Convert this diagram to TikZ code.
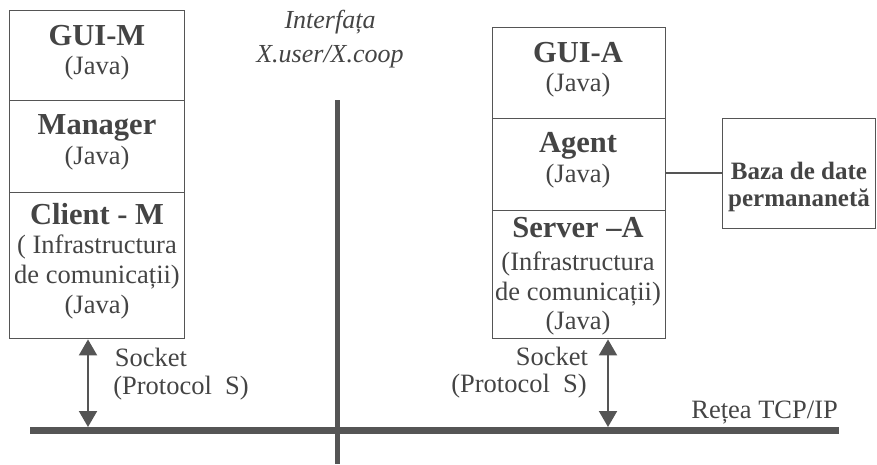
\documentclass[tikz,border=0pt]{standalone}
\usepackage{fontspec}
\setmainfont{Liberation Serif}
\usetikzlibrary{arrows.meta}
\definecolor{ink}{HTML}{444444}
\definecolor{inkline}{HTML}{555555}
\begin{document}
\begin{tikzpicture}[x=1pt,y=-1pt,
  layerbox/.style={draw=inkline,line width=1.4pt,inner sep=0pt,anchor=north west},
  title/.style={text=ink,font=\fontsize{30.5}{32}\selectfont\bfseries,inner sep=0pt},
  sub/.style={text=ink,font=\fontsize{26.5}{29}\selectfont,inner sep=0pt},
  dbtext/.style={text=ink,font=\fontsize{25}{29}\selectfont\bfseries,inner sep=0pt},
  ital/.style={text=ink,font=\fontsize{26}{29}\selectfont\itshape,inner sep=0pt},
  socketarrow/.style={draw=inkline,line width=2pt,{Triangle[length=16pt,width=18pt]}-{Triangle[length=16pt,width=18pt]}},
  busline/.style={draw=inkline,line width=7pt},
  splitline/.style={draw=inkline,line width=5pt},
  link/.style={draw=inkline,line width=1.4pt}]
\useasboundingbox (0,0) rectangle (877,464);

% manager side stack
\node[layerbox,minimum width=175pt,minimum height=90pt] (guim) at (9,10) {};
\node[layerbox,minimum width=175pt,minimum height=92pt] (mgr) at (9,100) {};
\node[layerbox,minimum width=175pt,minimum height=146pt] (clim) at (9,192) {};
\node[title] (tguim) at (97,36) {GUI-M};
\node[sub] (jguim) at (97,68) {(Java)};
\node[title] (tmgr) at (97,128) {Manager};
\node[sub] (jmgr) at (97,158) {(Java)};
\node[title] (tclim) at (97,214) {Client - M};
\node[sub] (iclim) at (97,247) {( Infrastructura};
\node[sub] (cclim) at (97,277) {de comunicații)};
\node[sub] (jclim) at (97,307) {(Java)};

% agent side stack
\node[layerbox,minimum width=173pt,minimum height=91pt] (guia) at (492,27) {};
\node[layerbox,minimum width=173pt,minimum height=92pt] (agent) at (492,118) {};
\node[layerbox,minimum width=173pt,minimum height=128pt] (srva) at (492,210) {};
\node[title] (tguia) at (578,53) {GUI-A};
\node[sub] (jguia) at (578,85) {(Java)};
\node[title] (tagent) at (578,146) {Agent};
\node[sub] (jagent) at (578,176) {(Java)};
\node[title] (tsrva) at (578,228) {Server –A};
\node[sub] (isrva) at (578,264) {(Infrastructura};
\node[sub] (csrva) at (578,294) {de comunicații)};
\node[sub] (jsrva) at (578,323) {(Java)};

% persistent database
\node[layerbox,minimum width=153pt,minimum height=110pt] (db) at (722,118) {};
\node[dbtext] (tdb1) at (799,171) {Baza de date};
\node[dbtext] (tdb2) at (799,200) {permananetă};
\draw[link] (agent.east |- 0,173) -- (db.west |- 0,173);

% interface divider
\node[ital] (ifa) at (330,22) {Interfața};
\node[ital] (ifb) at (330,57) {X.user/X.coop};
\coordinate (splittop) at (337,100);
\coordinate (splitbot) at (337,464);
\draw[splitline] (splittop) -- (splitbot);

% network bus
\coordinate (busL) at (30,430);
\coordinate (busR) at (839,430);
\draw[busline] (busL) -- (busR);
\node[sub,anchor=east] (net) at (838,413) {Rețea TCP/IP};

% socket links
\coordinate (lbus) at (88,427);
\coordinate (rbus) at (608,427);
\draw[socketarrow] (lbus |- clim.south) -- (lbus);
\draw[socketarrow] (rbus |- srva.south) -- (rbus);
\node[sub] (lsock) at (151,357) {Socket};
\node[sub] (lprot) at (181,388) {(Protocol\ \ S)};
\node[sub] (rsock) at (552,356) {Socket};
\node[sub] (rprot) at (519,386) {(Protocol\ \ S)};
\end{tikzpicture}
\end{document}
